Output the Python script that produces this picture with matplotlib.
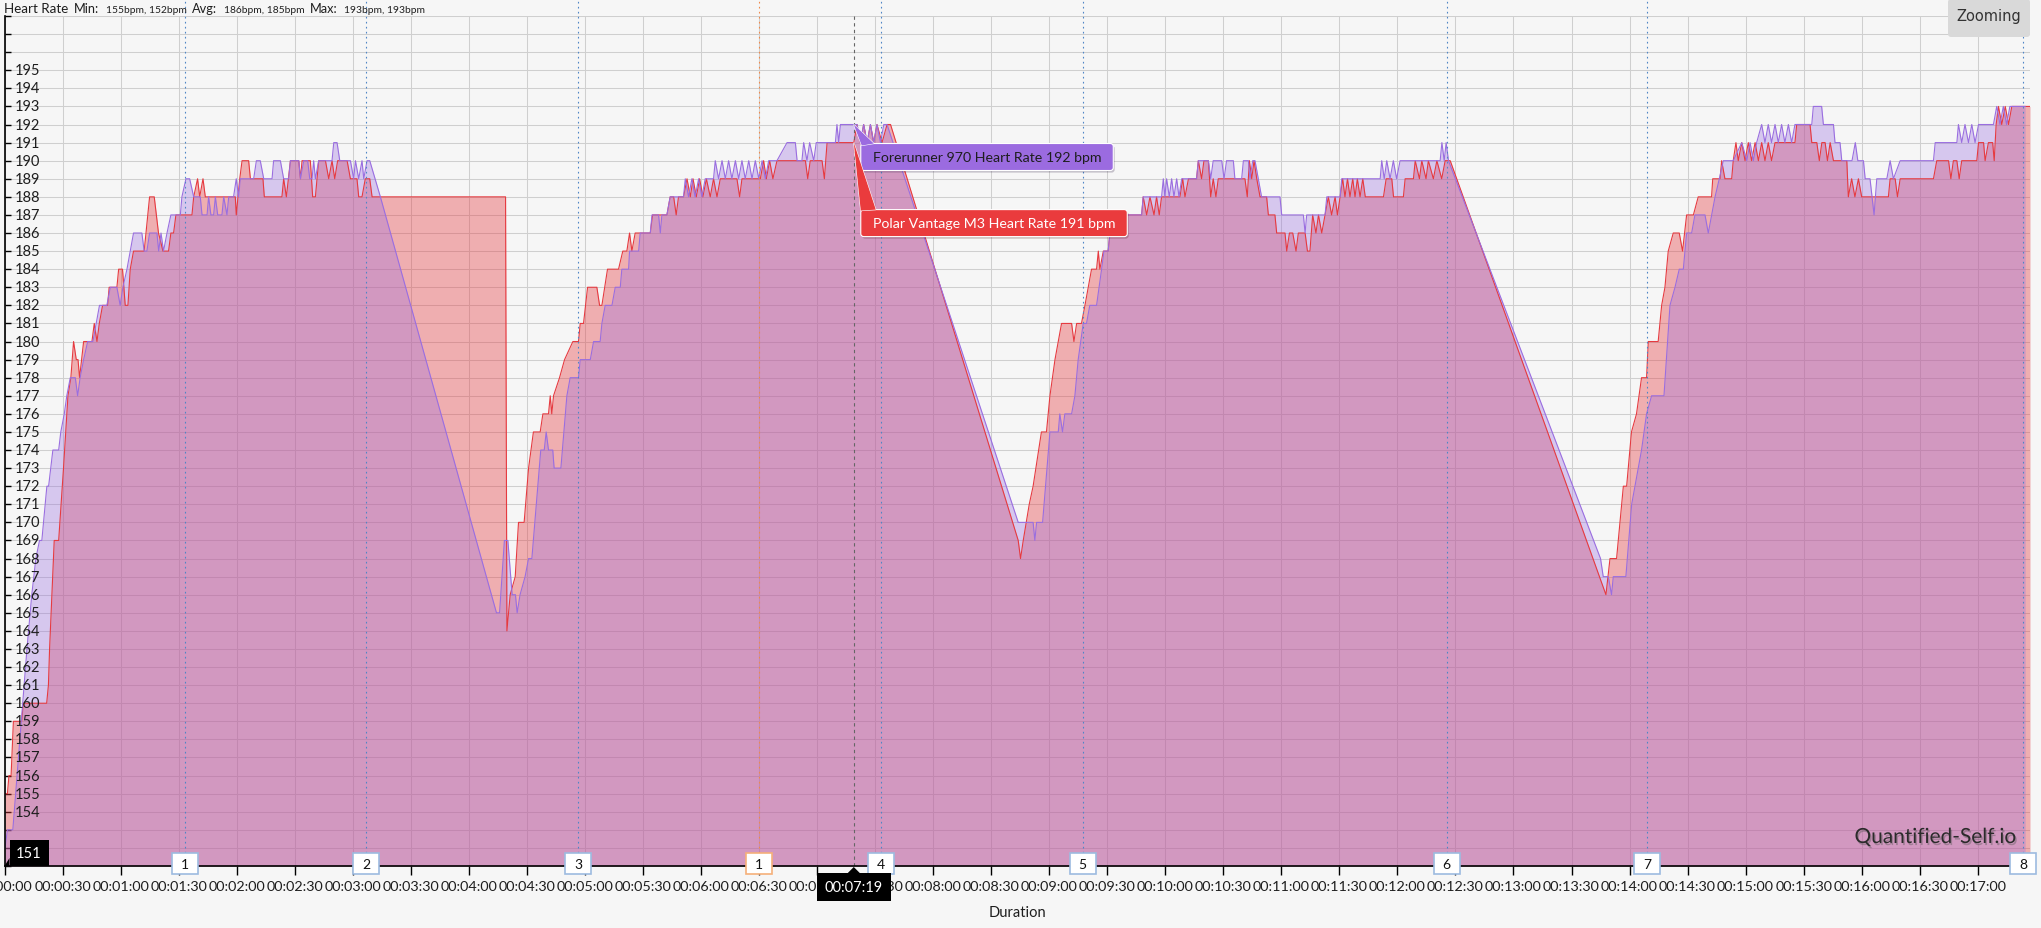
import numpy as np
import matplotlib
matplotlib.use("Agg")
import matplotlib.pyplot as plt
import matplotlib.patheffects as pe
from matplotlib.patches import FancyBboxPatch, Polygon, Rectangle
from matplotlib.transforms import IdentityTransform

W, H = 2041, 929
BG = "#f6f6f6"

# (seconds, bpm)
POLAR = [
    (0.3, 155), (1.5, 155), (2.3, 156), (3.4, 156), (4.6, 159), (8.9, 159), (9.7, 160), (21.8, 160),
    (22.7, 161), (23.3, 163), (25.7, 169), (28.0, 169), (30.5, 173), (32.8, 177), (34.3, 178), (35.7, 180),
    (37.1, 179), (38.0, 179), (38.8, 178), (40.9, 180), (45.2, 180), (46.4, 181), (47.8, 180), (49.0, 181),
    (50.7, 182), (53.3, 182), (54.1, 183), (58.1, 183), (59.0, 184), (61.0, 184), (62.4, 182), (63.8, 182),
    (65.0, 184), (66.7, 185), (72.2, 185), (75.0, 188), (77.4, 188), (79.6, 186), (81.9, 185), (84.8, 185),
    (86.0, 186), (87.4, 186), (88.6, 187), (96.9, 187), (97.8, 188), (99.8, 189), (100.9, 188), (102.6, 189),
    (103.8, 188), (119.3, 188), (119.8, 187), (121.6, 189), (122.8, 190), (126.2, 190), (127.1, 189),
    (133.6, 189), (134.3, 188), (143.4, 188), (144.3, 189), (145.7, 188), (147.8, 190), (152.1, 190),
    (153.0, 189), (153.8, 190), (158.1, 190), (159.3, 188), (160.7, 188), (162.4, 190), (165.9, 190),
    (167.6, 189), (169.3, 190), (170.7, 189), (172.2, 190), (177.1, 190), (178.8, 189), (182.2, 189),
    (183.1, 188), (184.8, 188), (186.5, 189), (188.8, 189), (190.0, 188), (259.0, 188), (259.7, 164),
    (261.4, 166), (264.0, 167), (265.7, 170), (268.6, 170), (270.9, 173), (273.4, 175), (276.9, 175),
    (278.3, 176), (281.2, 176), (282.1, 177), (282.9, 176), (283.8, 177), (286.9, 178), (289.5, 179),
    (293.8, 180), (296.7, 180), (297.6, 181), (299.3, 181), (301.4, 183), (306.2, 183), (307.6, 182),
    (308.8, 182), (311.7, 184), (317.4, 184), (319.6, 185), (321.7, 185), (323.1, 186), (324.3, 185),
    (326.0, 186), (333.8, 186), (335.0, 187), (342.4, 187), (344.1, 188), (345.9, 188), (347.2, 187),
    (348.4, 188), (351.0, 188), (352.8, 189), (354.5, 188), (355.9, 189), (357.6, 188), (359.3, 189),
    (361.0, 188), (362.8, 189), (364.8, 188), (366.5, 189), (368.3, 188), (370.0, 189), (378.6, 189),
    (380.0, 188), (381.2, 189), (390.7, 189), (392.4, 190), (393.8, 189), (395.5, 190), (397.2, 189),
    (399.3, 190), (414.0, 190), (415.2, 189), (416.5, 190), (422.6, 190), (423.8, 189), (425.2, 191),
    (439.0, 191), (440.7, 192), (442.4, 191), (444.1, 192), (445.9, 191), (447.6, 192), (449.3, 191),
    (451.0, 192), (453.6, 191), (456.2, 192), (458.0, 192),
    (524.0, 169), (525.2, 168), (526.6, 169), (529.7, 171), (531.7, 172), (536.0, 175), (538.6, 175),
    (540.4, 177), (543.0, 179), (546.4, 181), (551.6, 181), (552.8, 180), (554.2, 181), (556.7, 181),
    (558.5, 182), (560.2, 183), (561.9, 184), (564.5, 184), (565.4, 185), (566.2, 184), (568.0, 185),
    (570.5, 185), (571.4, 186), (574.0, 186), (578.3, 187), (587.8, 187), (588.6, 188), (590.4, 187),
    (592.1, 188), (594.2, 187), (595.5, 188), (596.9, 187), (598.1, 188), (607.6, 188), (609.0, 189),
    (610.2, 188), (612.0, 189), (616.2, 189), (617.1, 190), (618.8, 189), (620.0, 190), (622.3, 190),
    (623.5, 188), (624.8, 189), (626.2, 188), (627.4, 189), (641.2, 189), (642.4, 188), (643.5, 190),
    (644.7, 189), (645.9, 190), (647.3, 189), (649.0, 188), (652.4, 188), (653.3, 187), (656.7, 187),
    (657.6, 186), (661.9, 186), (662.8, 185), (664.2, 186), (665.9, 186), (667.6, 185), (668.8, 186),
    (672.3, 186), (673.5, 185), (674.8, 185), (676.2, 187), (677.9, 186), (679.2, 187), (680.9, 186),
    (682.6, 187), (684.3, 188), (686.0, 187), (687.8, 188), (689.0, 187), (690.4, 188), (691.7, 189),
    (692.9, 188), (694.2, 189), (695.5, 188), (696.9, 189), (698.1, 188), (699.3, 189), (700.7, 188),
    (702.1, 189), (703.4, 188), (712.8, 188), (714.2, 189), (717.1, 189), (718.0, 188), (723.1, 188),
    (724.0, 189), (728.3, 189), (729.2, 190), (731.4, 189), (732.6, 190), (734.8, 189), (736.0, 190),
    (738.6, 189), (740.4, 190), (742.9, 189), (744.7, 190), (747.3, 190),
    (827.8, 166), (829.9, 168), (833.3, 168), (836.8, 172), (838.5, 172), (841.0, 175), (843.6, 176),
    (846.2, 178), (848.8, 178), (849.7, 180), (854.8, 180), (856.6, 182), (858.3, 183), (860.0, 185),
    (862.6, 186), (865.7, 186), (867.4, 185), (869.5, 187), (873.0, 187), (875.5, 188), (882.4, 188),
    (883.0, 189), (886.8, 189), (887.6, 190), (889.3, 189), (892.8, 189), (893.6, 190), (895.0, 191),
    (896.2, 190), (898.0, 191), (899.7, 190), (901.4, 191), (903.1, 190), (904.9, 191), (906.6, 190),
    (908.3, 191), (910.0, 190), (911.7, 191), (913.4, 190), (915.2, 191), (925.5, 191), (926.4, 192),
    (933.3, 192), (934.2, 191), (936.8, 191), (938.1, 190), (939.4, 191), (941.1, 191), (942.3, 190),
    (943.7, 191), (945.4, 190), (952.3, 190), (953.1, 188), (954.8, 189), (956.5, 188), (958.3, 189),
    (960.0, 188), (973.8, 188), (974.7, 189), (977.3, 189), (978.5, 188), (979.9, 189), (997.1, 189),
    (998.8, 190), (1004.9, 190), (1006.1, 189), (1007.4, 190), (1009.2, 190), (1010.4, 189), (1011.7, 190),
    (1019.5, 190), (1020.4, 191), (1023.0, 191), (1023.8, 190), (1025.5, 191), (1027.7, 191), (1028.5, 190),
    (1029.5, 192), (1030.7, 193), (1032.4, 192), (1034.2, 193), (1035.9, 192), (1037.6, 193), (1047.0, 193),
]

FORERUNNER = [
    (0.3, 152), (1.5, 153), (4.3, 153), (9.4, 160), (11.6, 163), (14.1, 166), (16.2, 168), (18.1, 169),
    (19.3, 169), (21.9, 172), (22.8, 172), (25.0, 174), (28.0, 174), (29.1, 175), (30.9, 176), (32.2, 177),
    (34.0, 178), (36.6, 178), (37.8, 177), (39.1, 178), (40.9, 179), (43.0, 180), (45.7, 180), (47.4, 181),
    (49.1, 182), (52.9, 182), (54.7, 183), (58.1, 183), (59.8, 182), (61.2, 183), (63.3, 184), (65.0, 185),
    (66.7, 186), (71.0, 186), (72.2, 185), (73.6, 185), (75.0, 186), (78.8, 186), (79.7, 185), (80.9, 186),
    (82.2, 185), (84.0, 186), (86.0, 187), (90.9, 187), (91.7, 188), (93.8, 189), (95.7, 189), (97.8, 188),
    (101.2, 188), (102.1, 187), (104.7, 187), (105.5, 188), (106.7, 187), (108.1, 187), (109.0, 188),
    (110.2, 187), (112.4, 187), (113.3, 188), (115.0, 187), (115.9, 188), (118.4, 188), (119.8, 189),
    (121.0, 188), (121.9, 189), (128.8, 189), (130.2, 190), (132.2, 190), (134.0, 189), (138.3, 189),
    (139.1, 190), (142.6, 190), (144.3, 189), (146.9, 189), (147.8, 190), (152.1, 190), (153.0, 189),
    (154.7, 190), (156.7, 190), (157.8, 189), (159.0, 189), (159.8, 190), (160.7, 189), (162.4, 190),
    (169.3, 190), (170.2, 191), (171.9, 191), (173.3, 190), (178.8, 190), (180.5, 189), (181.4, 190),
    (183.1, 189), (184.8, 190), (185.7, 189), (187.4, 190), (188.8, 190), (194.3, 188), (254.3, 165),
    (255.9, 165), (258.4, 169), (260.2, 169), (262.4, 166), (264.1, 166), (265.0, 165), (266.5, 166),
    (269.1, 167), (270.9, 168), (272.6, 168), (277.2, 174), (279.0, 174), (280.0, 175), (281.2, 174),
    (283.4, 174), (284.1, 173), (287.6, 173), (290.7, 177), (292.4, 178), (296.7, 178), (297.6, 179),
    (302.8, 179), (304.5, 180), (307.9, 180), (308.8, 181), (310.5, 182), (314.0, 182), (315.7, 183),
    (318.3, 183), (319.1, 184), (322.6, 184), (323.1, 185), (327.8, 185), (328.6, 186), (333.8, 186),
    (334.7, 187), (338.1, 187), (339.0, 186), (339.8, 187), (342.4, 187), (344.1, 188), (351.0, 188),
    (351.9, 189), (353.6, 188), (355.3, 189), (357.0, 188), (358.8, 189), (360.5, 188), (362.2, 189),
    (366.5, 189), (367.4, 190), (369.1, 189), (370.9, 190), (372.6, 189), (374.3, 190), (376.0, 189),
    (377.8, 190), (379.5, 189), (381.2, 190), (382.9, 189), (384.7, 190), (386.4, 189), (388.1, 190),
    (389.9, 189), (391.6, 190), (393.3, 189), (395.0, 190), (399.3, 190), (404.5, 191), (408.8, 191),
    (409.7, 190), (412.2, 190), (413.1, 191), (414.8, 190), (416.2, 191), (418.3, 190), (419.6, 191),
    (429.5, 191), (430.3, 192), (431.2, 191), (432.1, 192), (440.7, 192), (442.4, 191), (444.1, 192),
    (445.9, 191), (447.6, 192), (449.3, 191), (451.0, 192), (452.8, 191), (454.5, 192), (456.2, 192),
    (524.0, 170), (528.3, 170), (531.7, 170), (532.6, 169), (533.5, 170), (536.6, 170), (540.4, 175),
    (544.7, 175), (545.5, 176), (546.9, 175), (548.1, 176), (551.6, 176), (553.3, 177), (555.0, 179),
    (557.6, 181), (559.3, 181), (561.0, 182), (564.5, 182), (567.1, 184), (568.3, 185), (570.5, 185),
    (571.4, 186), (574.0, 186), (578.6, 187), (587.8, 187), (588.6, 188), (598.1, 188), (599.0, 189),
    (599.8, 188), (600.7, 189), (602.1, 188), (603.3, 189), (604.5, 188), (605.9, 189), (607.1, 188),
    (608.5, 189), (616.2, 189), (617.1, 190), (622.3, 190), (623.5, 189), (624.8, 190), (629.2, 190),
    (630.4, 189), (631.7, 190), (635.2, 190), (636.0, 189), (639.5, 189), (640.4, 190), (643.0, 190),
    (643.8, 189), (645.2, 190), (646.4, 190), (649.8, 188), (659.3, 188), (660.2, 187), (671.4, 187),
    (672.3, 186), (673.1, 187), (682.6, 187), (683.5, 188), (690.4, 188), (691.2, 189), (711.1, 189),
    (711.9, 190), (713.2, 189), (714.5, 190), (716.2, 189), (717.9, 190), (719.6, 189), (721.4, 190),
    (742.1, 190), (743.0, 191), (744.2, 190), (745.2, 191), (746.4, 190),
    (825.0, 168), (826.4, 167), (829.0, 167), (830.7, 166), (831.6, 167), (838.1, 167), (841.1, 171),
    (842.8, 172), (846.2, 174), (848.8, 176), (851.4, 177), (857.8, 177), (860.9, 182), (863.5, 183),
    (865.7, 184), (867.8, 184), (869.5, 186), (872.1, 186), (873.8, 187), (879.0, 187), (880.7, 186),
    (884.2, 188), (886.4, 189), (888.5, 190), (893.6, 190), (898.0, 191), (900.6, 190), (902.3, 191),
    (904.0, 190), (905.7, 191), (908.3, 192), (910.0, 191), (911.7, 192), (913.4, 191), (915.2, 192),
    (916.9, 191), (918.6, 192), (920.3, 191), (922.1, 192), (923.8, 191), (925.5, 192), (934.2, 192),
    (935.0, 193), (939.3, 193), (940.2, 192), (945.4, 192), (946.2, 191), (948.8, 191), (949.7, 190),
    (955.0, 190), (956.7, 191), (958.0, 190), (960.9, 190), (961.8, 189), (964.3, 189), (966.4, 187),
    (967.8, 189), (973.0, 189), (974.7, 190), (976.4, 189), (979.9, 190), (997.1, 190), (998.0, 191),
    (1009.2, 191), (1010.0, 192), (1011.7, 191), (1013.4, 192), (1015.2, 191), (1016.9, 192),
    (1018.6, 191), (1020.4, 192), (1028.1, 192), (1029.8, 193), (1031.5, 192), (1033.2, 193),
    (1034.9, 192), (1036.6, 193), (1044.5, 193),
]

lap_times = [93.5, 186.9, 296.7, 453.2, 557.3, 745.4, 849.2, 1043.6]
lap_names = ["1", "2", "3", "4", "5", "6", "7", "8"]
manual_lap_times = [390.2]
manual_lap_names = ["1"]
cursor_time = 439
cursor_values = {"Forerunner 970": 192, "Polar Vantage M3": 191}
y_min, y_max = 151, 198
x_max = 1047
stats = [("Min:", "155bpm, 152bpm"), ("Avg:", "186bpm, 185bpm"), ("Max:", "193bpm, 193bpm")]

RED = "#e63a40"
PURPLE = "#9a6ee0"

plt.rcParams["font.family"] = ["Lato", "DejaVu Sans"]

polar_t, polar_bpm = np.array(POLAR).T
fr_t, fr_bpm = np.array(FORERUNNER).T


def hms(sec):
    sec = int(round(sec))
    return f"{sec // 3600:02d}:{sec % 3600 // 60:02d}:{sec % 60:02d}"


def top(y):
    # image rows are counted from the top, display coords from the bottom
    return H - y


fig = plt.figure(figsize=(W / 100, H / 100), dpi=100, facecolor=BG)
ax = fig.add_axes([4.5 / W, 62 / H, 2025.5 / W, 850 / H])
ax.set_facecolor(BG)
ax.set_xlim(0, x_max)
ax.set_ylim(y_min, y_max)

ax.fill_between(polar_t, polar_bpm, y_min, color=RED, alpha=0.38, lw=0, zorder=2)
ax.fill_between(fr_t, fr_bpm, y_min, color=PURPLE, alpha=0.34, lw=0, zorder=3)
ax.plot(polar_t, polar_bpm, color=RED, lw=0.8, zorder=4)
ax.plot(fr_t, fr_bpm, color=PURPLE, lw=0.8, zorder=5)

xt = np.arange(0, 1021, 30)
ax.set_xticks(xt)
ax.set_xticklabels([hms(s) for s in xt])
ax.set_yticks(np.arange(y_min, y_max + 1, 1))
ax.set_yticklabels([])
ax.grid(color="#cfcfcf", lw=0.75, zorder=0)
ax.set_axisbelow(True)
for side in ("top", "right"):
    ax.spines[side].set_visible(False)
for side in ("left", "bottom"):
    ax.spines[side].set_color("black")
    ax.spines[side].set_linewidth(1.2)
    ax.spines[side].set_zorder(6)
ax.tick_params(axis="x", direction="out", length=6.5, width=1, pad=3.5, labelsize=10.4, labelcolor="#1e1e1e")
ax.tick_params(axis="y", direction="in", length=4.5, width=1)

ytrans = ax.get_yaxis_transform()
for v in range(154, 196):
    ax.text(0.0052, v, str(v), transform=ytrans, ha="left", va="center", fontsize=10.5, color="#1e1e1e", zorder=7)

# lap markers
for t in lap_times:
    ax.axvline(t, ymin=0.015, ymax=1.03, color="#4f86c6", lw=0.8, ls=(0, (1.5, 3)), clip_on=False, zorder=6)
for t in manual_lap_times:
    ax.axvline(t, ymin=0.015, ymax=1.03, color="#f08a4b", lw=0.8, ls=(0, (1.5, 3)), clip_on=False, zorder=6)

ax.axvline(cursor_time, color="#666666", lw=0.8, ls=(0, (3, 3)), zorder=6)

fig.canvas.draw()
renderer = fig.canvas.get_renderer()
ident = IdentityTransform()


def data_px(t, v):
    return ax.transData.transform((t, v))


def marker_box(t, label, edge):
    xc, _ = data_px(t, y_min)
    w, h = 26, 21
    fig.add_artist(Rectangle((xc - w / 2, top(875)), w, h, transform=ident, facecolor="white",
                             edgecolor=edge, lw=1.2, zorder=10))
    fig.text(xc, top(865), label, transform=ident, ha="center", va="center", fontsize=10,
             color="#111111", zorder=11)


for t, name in zip(lap_times, lap_names):
    marker_box(t, name, "#9dbbe0")
for t, name in zip(manual_lap_times, manual_lap_names):
    marker_box(t, name, "#f5b07a")

# cursor tooltips
xp, yp192 = data_px(cursor_time, cursor_values["Forerunner 970"])
_, yp191 = data_px(cursor_time, cursor_values["Polar Vantage M3"])


def tooltip(x0, ytop, face, tcolor, text, tip):
    h_ = 27
    label = fig.text(x0 + 12, ytop - h_ / 2, text, transform=ident, ha="left", va="center", fontsize=10.2,
                     color=tcolor, zorder=14)
    w = label.get_window_extent(renderer).width + 24
    box = FancyBboxPatch((x0, ytop - h_), w, h_, boxstyle="round,pad=0,rounding_size=3", transform=ident,
                         facecolor=face, edgecolor="white", lw=0.8, zorder=12,
                         path_effects=[pe.SimplePatchShadow(offset=(1, -1.5), alpha=0.25), pe.Normal()])
    fig.add_artist(box)
    fig.add_artist(Polygon(tip, closed=True, transform=ident, facecolor=face, edgecolor="white",
                           lw=0.8, zorder=12))
    fig.add_artist(Polygon(tip, closed=True, transform=ident, facecolor=face, edgecolor="none", zorder=13))


tooltip(xp + 7, yp192 - 19, "#9b6be0", "#1e1e1e", "Forerunner 970 Heart Rate 192 bpm",
        [(xp, yp192), (xp + 8, yp192 - 21), (xp + 20, yp192 - 19)])
tooltip(xp + 7, yp191 - 67, "#ea3b3d", "white", "Polar Vantage M3 Heart Rate 191 bpm",
        [(xp, yp191), (xp + 7, yp191 - 68), (xp + 22, yp191 - 67)])

# black cursor labels
fig.add_artist(Rectangle((xp - 37, top(902)), 74, 28, transform=ident, facecolor="black", zorder=15))
fig.add_artist(Polygon([(xp, top(868)), (xp - 6, top(874)), (xp + 6, top(874))], transform=ident,
                       facecolor="black", zorder=15))
fig.text(xp, top(888), hms(cursor_time), transform=ident, ha="center", va="center", fontsize=10.5,
         color="white", zorder=16)

x0, yb = data_px(0, y_min)
fig.add_artist(Rectangle((x0 + 5, yb), 39, 26, transform=ident, facecolor="black", zorder=15))
fig.add_artist(Polygon([(x0, yb), (x0 + 5, yb + 8), (x0 + 5, yb)], transform=ident, facecolor="black", zorder=15))
fig.text(x0 + 24, yb + 13, str(y_min), transform=ident, ha="center", va="center", fontsize=10.5,
         color="white", zorder=16)

# title and stats, laid out one after another
cursor_x = 4
pieces = [("Heart Rate", 9.6)]
for key, val in stats:
    pieces += [(key, 9.2), (val, 7.4)]
for txt, size in pieces:
    t_ = fig.text(cursor_x, top(13), txt, transform=ident, ha="left", va="baseline", fontsize=size,
                  color="#1e1e1e")
    cursor_x = t_.get_window_extent(renderer).x1 + 6

fig.text(1017, top(913), "Duration", transform=ident, ha="center", va="center", fontsize=10.5, color="#1e1e1e")

# zoom button and watermark
fig.add_artist(FancyBboxPatch((1948, top(38)), 82, 38, boxstyle="round,pad=0,rounding_size=3",
                              transform=ident, facecolor="#d9d9d9", edgecolor="none", zorder=10))
fig.text(1989, top(17), "Zooming", transform=ident, ha="center", va="center", fontsize=10.5,
         color="#333333", family="DejaVu Sans", zorder=11)
fig.text(2016, top(838), "Quantified-Self.io", transform=ident, ha="right", va="center", fontsize=15,
         color="#2b2b2b", zorder=9,
         path_effects=[pe.withSimplePatchShadow(offset=(1, -1.5), shadow_rgbFace="#555555", alpha=0.4)])

fig.savefig("out.png", dpi=100, facecolor=BG)
